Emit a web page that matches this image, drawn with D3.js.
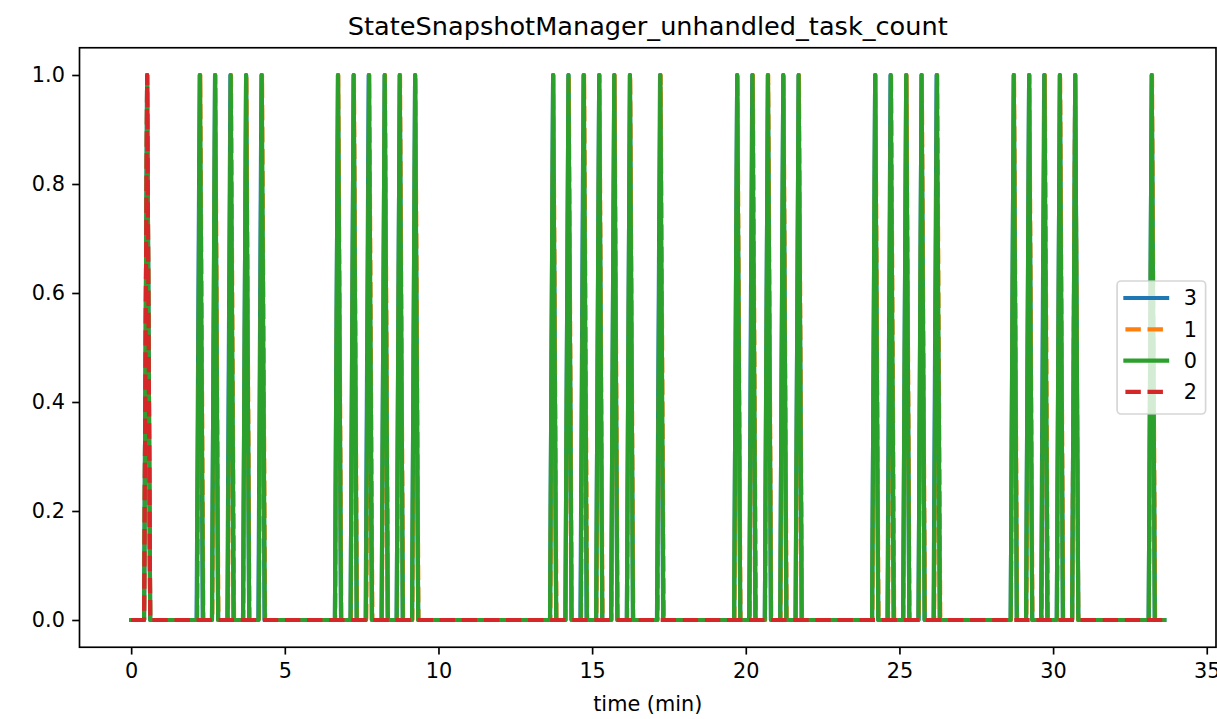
<!DOCTYPE html>
<html>
<head>
<meta charset="utf-8">
<script src="https://cdn.jsdelivr.net/npm/d3@7"></script>
<style>
  html, body { margin: 0; padding: 0; background: #fff; }
  svg { display: block; font-family: "DejaVu Sans", sans-serif; }
</style>
</head>
<body>
<svg id="chart" width="1217" height="719"></svg>
<script>
// Recording window (minutes) and sampling half-interval around each event sample
const timeStart = 0;
const timeEnd = 33.62;
const sampleGap = 0.1;

// Series labels in legend order, with their colours and dash styles
const seriesNames = ["3", "1", "0", "2"];
const seriesColors = ["#1f77b4", "#ff7f0e", "#2ca02c", "#d62728"];
const seriesDashed = [false, true, false, true];

// Minutes at which each instance reported one unhandled task (value 1.0)
const events3 = [0.52, 2.23, 2.73, 3.23, 3.74, 4.24, 6.73, 7.24, 7.73, 8.25, 8.74, 9.24,
  13.73, 14.23, 14.72, 15.23, 15.72, 16.23, 17.21, 19.72, 20.21, 20.72, 21.22, 21.72,
  24.21, 24.71, 25.22, 25.72, 26.21, 28.72, 29.22, 29.71, 30.22, 30.72, 33.21];
const events1 = [0.52, 2.25, 2.74, 3.25, 3.75, 4.26, 6.74, 7.25, 7.75, 8.26, 8.75, 9.25,
  13.74, 14.24, 14.74, 15.24, 15.73, 16.24, 17.23, 19.73, 20.23, 20.73, 21.23, 21.73,
  24.22, 24.73, 25.23, 25.73, 26.23, 28.73, 29.23, 29.73, 30.23, 30.72, 33.22];
const events0 = [0.52, 2.24, 2.73, 3.24, 3.74, 4.25, 6.73, 7.24, 7.74, 8.25, 8.74, 9.24,
  13.73, 14.23, 14.73, 15.23, 15.72, 16.23, 17.22, 19.72, 20.22, 20.72, 21.22, 21.72,
  24.21, 24.72, 25.22, 25.72, 26.22, 28.72, 29.22, 29.72, 30.22, 30.72, 33.21];
const events2 = [0.52];
const seriesEvents = [events3, events1, events0, events2];

// Axis ticks
const xTicks = [0, 5, 10, 15, 20, 25, 30, 35];
const yTicks = [0.0, 0.2, 0.4, 0.6, 0.8, 1.0];

const titleText = "StateSnapshotManager_unhandled_task_count";
const xLabelText = "time (min)";

// ---- layout ----
const plot = { left: 79.5, right: 1216, top: 47.75, bottom: 647.25 };
const fontPx = 20.8;
const lineW = 4.17;
const dash = `${3.7 * lineW},${1.6 * lineW}`;
const spineW = 1.67;
const tickLen = 7.3;

const pad = 0.05 * (timeEnd - timeStart);
const x = d3.scaleLinear().domain([timeStart - pad, timeEnd + pad]).range([plot.left, plot.right]);
const y = d3.scaleLinear().domain([-0.05, 1.05]).range([plot.bottom, plot.top]);

const svg = d3.select("#chart");

// Build each sampled series: zero baseline, single 1.0 samples at event times
function buildPoints(events) {
  const pts = [[timeStart, 0]];
  events.forEach(t => {
    pts.push([t - sampleGap, 0], [t, 1], [t + sampleGap, 0]);
  });
  pts.push([timeEnd, 0]);
  return pts;
}

const line = d3.line().x(d => x(d[0])).y(d => y(d[1]));

svg.append("defs").append("clipPath").attr("id", "plotClip")
  .append("rect")
  .attr("x", plot.left).attr("y", plot.top)
  .attr("width", plot.right - plot.left).attr("height", plot.bottom - plot.top);

const lines = svg.append("g").attr("clip-path", "url(#plotClip)");
seriesNames.forEach((name, i) => {
  lines.append("path")
    .datum(buildPoints(seriesEvents[i]))
    .attr("d", line)
    .attr("fill", "none")
    .attr("stroke", seriesColors[i])
    .attr("stroke-width", lineW)
    .attr("stroke-linejoin", "round")
    .attr("stroke-linecap", seriesDashed[i] ? "butt" : "square")
    .attr("stroke-dasharray", seriesDashed[i] ? dash : null);
});

// ---- axes ----
const xAxis = d3.axisBottom(x).tickValues(xTicks).tickFormat(d3.format("d"))
  .tickSizeInner(tickLen).tickSizeOuter(0).tickPadding(7.3);
const yAxis = d3.axisLeft(y).tickValues(yTicks).tickFormat(d3.format(".1f"))
  .tickSizeInner(tickLen).tickSizeOuter(0).tickPadding(7.3);

const gx = svg.append("g").attr("transform", `translate(0,${plot.bottom})`).call(xAxis);
const gy = svg.append("g").attr("transform", `translate(${plot.left},0)`).call(yAxis);
[gx, gy].forEach(g => {
  g.select(".domain").remove();
  g.selectAll(".tick line").attr("stroke", "#000").attr("stroke-width", spineW);
  g.selectAll(".tick text")
    .attr("fill", "#000")
    .style("font-family", "DejaVu Sans")
    .style("font-size", fontPx + "px");
});
gx.selectAll(".tick text").attr("dy", "0.76em");

// Frame
svg.append("rect")
  .attr("x", plot.left).attr("y", plot.top)
  .attr("width", plot.right - plot.left).attr("height", plot.bottom - plot.top)
  .attr("fill", "none").attr("stroke", "#000").attr("stroke-width", spineW);

// Title and axis label
svg.append("text")
  .attr("x", (plot.left + plot.right) / 2).attr("y", 35)
  .attr("text-anchor", "middle")
  .style("font-size", "25.6px")
  .text(titleText);

svg.append("text")
  .attr("x", (plot.left + plot.right) / 2).attr("y", 711)
  .attr("text-anchor", "middle")
  .style("font-size", fontPx + "px")
  .text(xLabelText);

// ---- legend (center right) ----
const legW = 88.5, legH = 133;
const legX = plot.right - 10.4 - legW;
const legY = (plot.top + plot.bottom) / 2 - legH / 2;
const legend = svg.append("g");
legend.append("rect")
  .attr("x", legX).attr("y", legY).attr("width", legW).attr("height", legH)
  .attr("rx", 4).attr("ry", 4)
  .attr("fill", "#fff").attr("fill-opacity", 0.8)
  .attr("stroke", "#cccccc").attr("stroke-opacity", 0.8).attr("stroke-width", spineW);

const rowStep = 31.3;
const row0 = legY + 17;
seriesNames.forEach((name, i) => {
  const cy = row0 + i * rowStep;
  const hx = legX + 8.3;
  legend.append("line")
    .attr("x1", hx).attr("x2", hx + 41.7)
    .attr("y1", cy).attr("y2", cy)
    .attr("stroke", seriesColors[i])
    .attr("stroke-width", lineW)
    .attr("stroke-linecap", seriesDashed[i] ? "butt" : "square")
    .attr("stroke-dasharray", seriesDashed[i] ? dash : null);
  legend.append("text")
    .attr("x", hx + 41.7 + 16.7).attr("y", cy)
    .attr("dy", "0.36em")
    .style("font-size", fontPx + "px")
    .text(name);
});
</script>
</body>
</html>
